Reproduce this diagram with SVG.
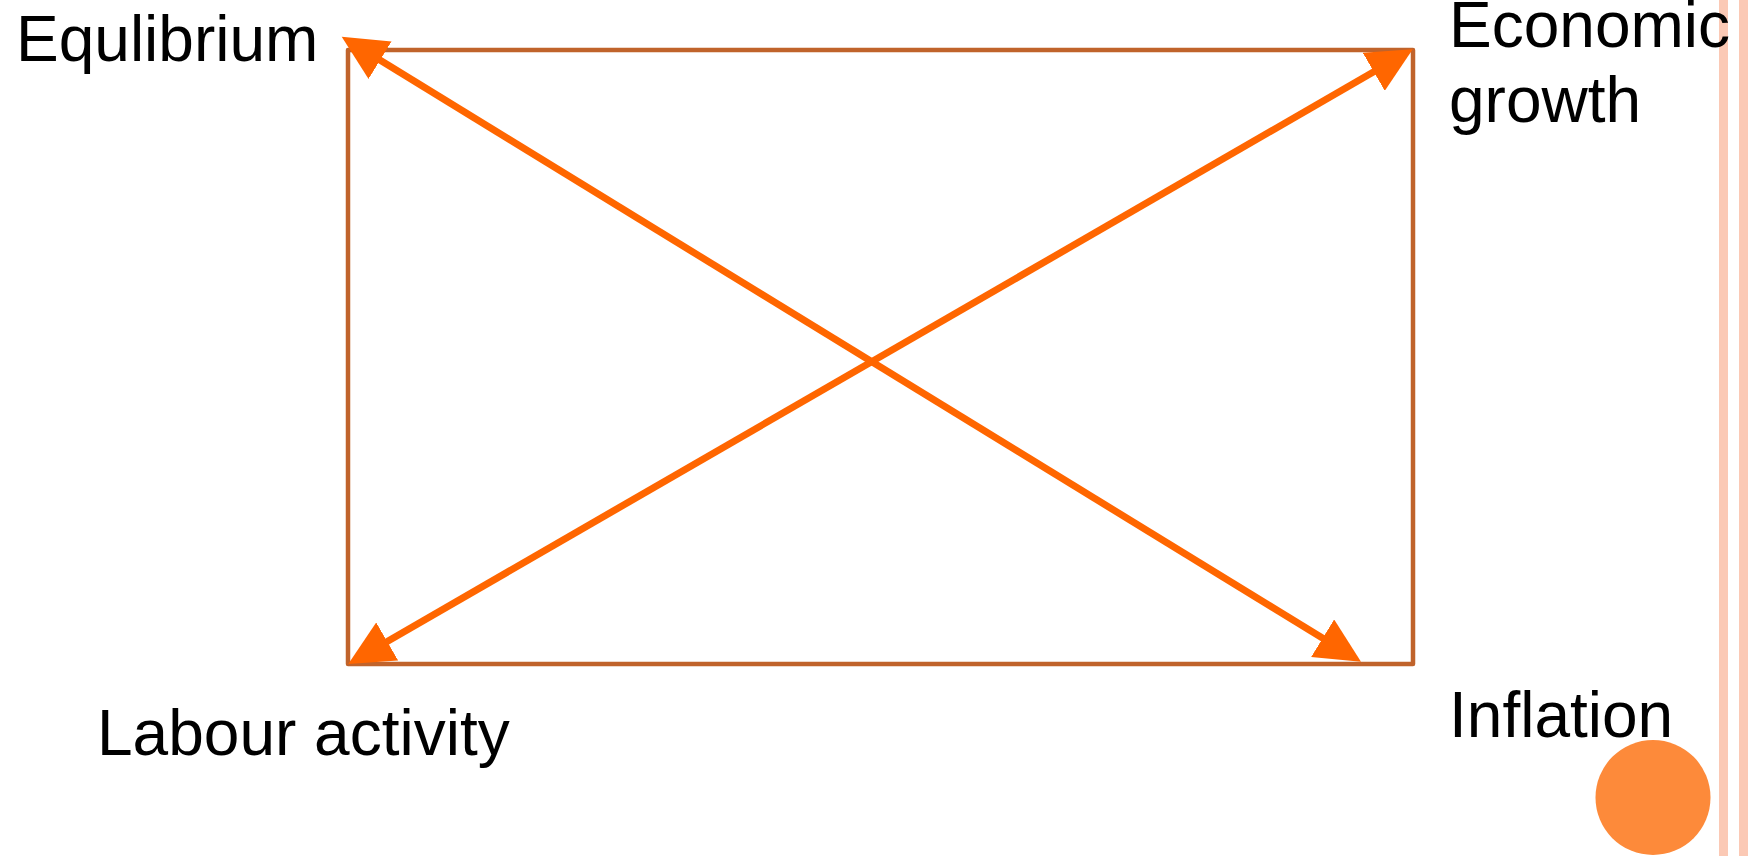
<svg xmlns="http://www.w3.org/2000/svg" width="1748" height="856" viewBox="0 0 1748 856">
<style>
.lbl{font-family:"Liberation Sans",Arial,sans-serif;font-size:64px;fill:#000}
.frame{fill:none;stroke:#C0632B;stroke-width:4.5;stroke-linejoin:round}
.arrow{fill:none;stroke:#FF6600;stroke-width:7}
.bar{fill:#FBC9B5}
</style>
<defs>
<marker id="ah" markerUnits="userSpaceOnUse" markerWidth="46" markerHeight="44" viewBox="0 0 46 44" refX="5" refY="22" orient="auto-start-reverse">
<path d="M0,0 L45,22 L0,44 z" fill="#FF6600"/>
</marker>
</defs>
<rect class="bar" x="1719" y="0" width="9" height="856"/>
<rect class="bar" x="1739" y="0" width="9" height="856"/>
<g id="frame">
<rect class="frame" x="348" y="50" width="1065" height="614"/>
</g>
<g id="connectors">
<line class="arrow" x1="375.8" y1="57.6" x2="1326.9" y2="640.8" marker-start="url(#ah)" marker-end="url(#ah)"/>
<line class="arrow" x1="382.9" y1="644" x2="1378.1" y2="69.3" marker-start="url(#ah)" marker-end="url(#ah)"/>
</g>
<g id="equilibrium"><text class="lbl" x="16" y="61">Equlibrium</text></g>
<g id="economic-growth"><text class="lbl" x="1449" y="47">Economic</text><text class="lbl" x="1449" y="122">growth</text></g>
<g id="labour-activity"><text class="lbl" x="97" y="755">Labour activity</text></g>
<g id="inflation"><text class="lbl" x="1449" y="737">Inflation</text></g>
<g id="dot"><circle cx="1653" cy="797.5" r="57.5" fill="#FD8A3A"/></g>
</svg>
